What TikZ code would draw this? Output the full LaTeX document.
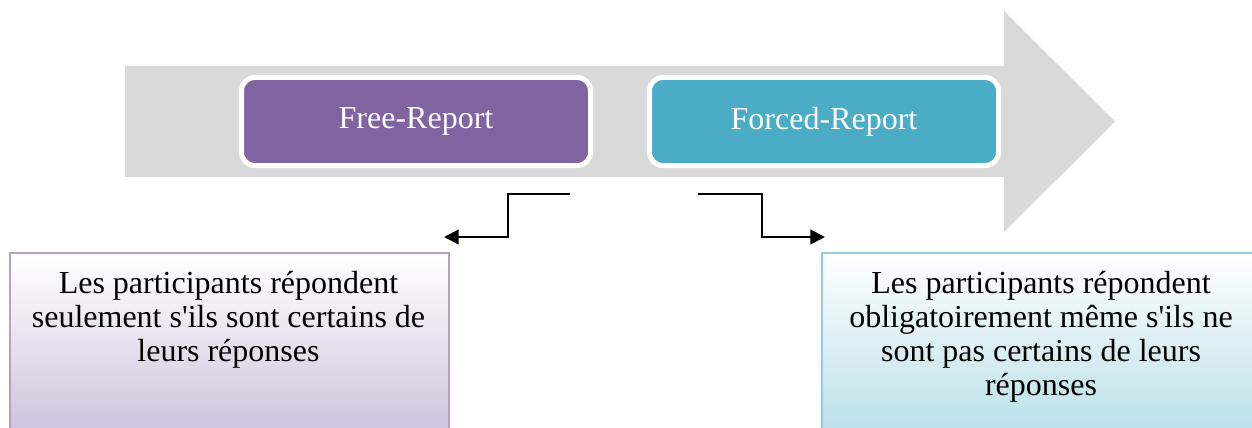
\documentclass[tikz,border=0pt]{standalone}
\usepackage{fontspec}
\setmainfont{Liberation Serif}
\usetikzlibrary{arrows.meta}
\definecolor{bargrey}{RGB}{217,217,217}
\definecolor{freepurple}{RGB}{128,100,162}
\definecolor{forcedteal}{RGB}{75,172,198}
\definecolor{freeline}{RGB}{178,161,199}
\definecolor{freeshade}{RGB}{204,192,218}
\definecolor{forcedline}{RGB}{147,205,221}
\definecolor{forcedshade}{RGB}{183,222,232}
\begin{document}
\begin{tikzpicture}[x=0.75pt,y=-0.75pt,
	report/.style={draw=white,line width=3.75pt,rounded corners=10pt,minimum width=261.75pt,minimum height=66pt,text=white,font=\fontsize{24}{28}\selectfont},
	notebox/.style={line width=1.5pt,minimum height=141pt,anchor=north west},
	notetext/.style={align=center,anchor=north,inner sep=0pt,font=\fontsize{24}{25.5}\selectfont},
	link/.style={line width=1.5pt,-{Triangle[length=11pt,width=11pt]}}]
	\useasboundingbox (0,0) rectangle (1252,428);
	% grey timeline arrow
	\fill[bargrey] (125,66) -- (1004,66) -- (1004,11) -- (1115,121.5) -- (1004,232) -- (1004,177) -- (125,177) -- cycle;
	\node[report,fill=freepurple] (free) at (416,121.5) {Free-Report};
	\node[report,fill=forcedteal] (forced) at (824,121.5) {Forced-Report};
	% explanation boxes
	\node[notebox,draw=freeline,top color=white,bottom color=freeshade,minimum width=329.25pt] (freebox) at (9,252) {};
	\node[notebox,draw=forcedline,top color=white,bottom color=forcedshade,minimum width=345pt] (forcedbox) at (821,252) {};
	\node[notetext] (freetext) at (228.5,271) {Les participants répondent\\seulement s\textquotesingle ils sont certains de\\leurs réponses};
	\node[notetext] (forcedtext) at (1041,271) {Les participants répondent\\obligatoirement même s\textquotesingle ils ne\\sont pas certains de leurs\\réponses};
	% connectors
	\coordinate (free out) at (570,194);
	\coordinate (free in) at (444,237);
	\coordinate (forced out) at (698,194);
	\coordinate (forced in) at (825,237);
	\draw[link] (free out) -- ++(-62,0) |- (free in);
	\draw[link] (forced out) -- ++(64,0) |- (forced in);
\end{tikzpicture}
\end{document}
